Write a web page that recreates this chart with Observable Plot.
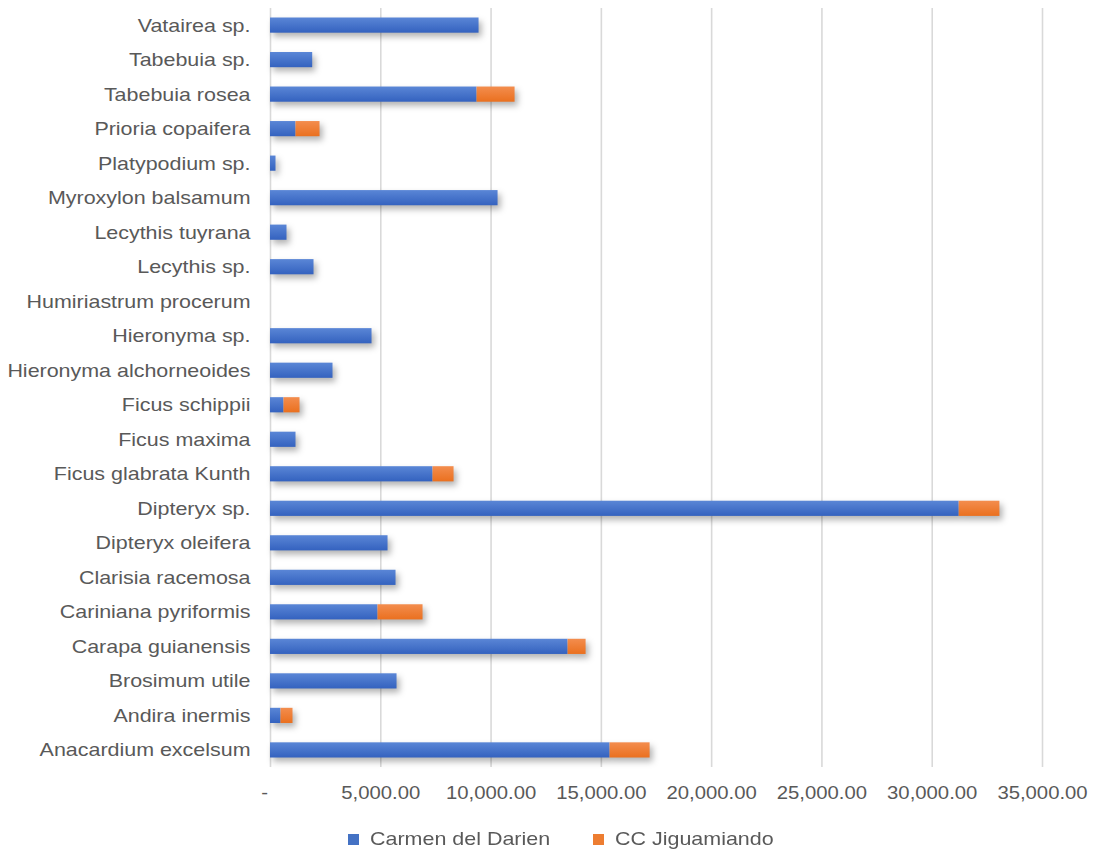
<!DOCTYPE html>
<html>
<head>
<meta charset="utf-8">
<script src="https://cdn.jsdelivr.net/npm/d3@7"></script>
<script src="https://cdn.jsdelivr.net/npm/@observablehq/plot@0.6"></script>
<style>
  html, body { margin: 0; padding: 0; background: #ffffff; }
  body { width: 1094px; height: 852px; font-family: "Liberation Sans", Arial, sans-serif; position: relative; }
  #chart svg { display: block; }
  g[aria-label="bar"] { filter: drop-shadow(3px 4px 3px rgba(0,0,0,0.30)); }
  #legend { position: absolute; top: 827px; left: 0; width: 1094px; height: 24px; font-size: 18.5px; color: #595959; }
  .item { position: absolute; top: 0; display: flex; align-items: center; height: 24px; }
  .sw { width: 11px; height: 11px; margin-right: 11px; }
  .lbl { display: inline-block; transform: scaleX(1.16); transform-origin: left center; white-space: nowrap; }
</style>
</head>
<body>
<div id="chart"></div>
<div id="legend"></div>
<script>
// Categories, top to bottom
const species = [
  "Vatairea sp.", "Tabebuia sp.", "Tabebuia rosea", "Prioria copaifera", "Platypodium sp.",
  "Myroxylon balsamum", "Lecythis tuyrana", "Lecythis sp.", "Humiriastrum procerum",
  "Hieronyma sp.", "Hieronyma alchorneoides", "Ficus schippii", "Ficus maxima",
  "Ficus glabrata Kunth", "Dipteryx sp.", "Dipteryx oleifera", "Clarisia racemosa",
  "Cariniana pyriformis", "Carapa guianensis", "Brosimum utile", "Andira inermis",
  "Anacardium excelsum"
];
// Series values
const carmenDelDarien = [
  9455, 1913, 9365, 1156, 250,
  10317, 748, 1973, 0,
  4603, 2834, 612, 1156,
  7369, 31224, 5329, 5691,
  4875, 13492, 5737, 476,
  15396
];
const ccJiguamiando = [
  0, 0, 1723, 1089, 0,
  0, 0, 0, 0,
  0, 0, 726, 0,
  953, 1845, 0, 0,
  2041, 816, 0, 544,
  1814
];
const seriesNames = ["Carmen del Darien", "CC Jiguamiando"];
const seriesColors = ["#4472C4", "#ED7D31"];
const xTicks = [0, 5000, 10000, 15000, 20000, 25000, 30000, 35000];

const rows = [];
species.forEach((s, i) => {
  rows.push({species: s, series: seriesNames[0], value: carmenDelDarien[i]});
  rows.push({species: s, series: seriesNames[1], value: ccJiguamiando[i]});
});

const fmt = d => d === 0 ? "-" : d3.format(",.2f")(d);

const chart = Plot.plot({
  width: 1094,
  height: 815,
  marginTop: 8,
  marginBottom: 48,
  marginLeft: 270,
  marginRight: 52,
  style: {fontFamily: '"Liberation Sans", Arial, sans-serif', background: "#ffffff"},
  x: {domain: [0, 35000], ticks: xTicks, tickFormat: fmt, label: null},
  y: {domain: species, paddingInner: 0.56, paddingOuter: 0.275, round: false, label: null},
  color: {domain: seriesNames, range: ["url(#gradBlue)", "url(#gradOrange)"]},
  marks: [
    Plot.gridX(xTicks, {stroke: "#d9d9d9", strokeOpacity: 1, strokeWidth: 1.6}),
    Plot.barX(rows, {x: "value", y: "species", fill: "series"}),
    Plot.axisX({ticks: xTicks, tickFormat: fmt, tickSize: 0, tickPadding: 19, fontSize: 17.5, color: "#595959", label: null}),
    Plot.axisY({tickSize: 0, tickPadding: 20, fontSize: 18.5, color: "#595959", label: null})
  ]
});

// Gradient definitions for the bars
const ns = "http://www.w3.org/2000/svg";
const defs = document.createElementNS(ns, "defs");
const grads = [
  ["gradBlue", "#5a86d6", "#3462bf"],
  ["gradOrange", "#f38d4e", "#ea701f"]
];
grads.forEach(([id, c1, c2]) => {
  const g = document.createElementNS(ns, "linearGradient");
  g.setAttribute("id", id);
  g.setAttribute("x1", "0"); g.setAttribute("y1", "0");
  g.setAttribute("x2", "0"); g.setAttribute("y2", "1");
  [[0, c1], [1, c2]].forEach(([o, c]) => {
    const st = document.createElementNS(ns, "stop");
    st.setAttribute("offset", o);
    st.setAttribute("stop-color", c);
    g.appendChild(st);
  });
  defs.appendChild(g);
});
chart.insertBefore(defs, chart.firstChild);

// Widen axis text horizontally (reference text is horizontally stretched)
chart.querySelectorAll('g[aria-label="y-axis tick label"] text, g[aria-label="x-axis tick label"] text').forEach(t => {
  const tr = t.getAttribute("transform") || "";
  t.setAttribute("transform", tr + " scale(1.16,1)");
});
// Shift the "-" zero label slightly left, as in the reference
chart.querySelectorAll('g[aria-label="x-axis tick label"] text').forEach(t => {
  if (t.textContent === "-") t.setAttribute("transform", (t.getAttribute("transform") || "") + " translate(-5,0)");
});
document.getElementById("chart").appendChild(chart);

// Legend
const legend = document.getElementById("legend");
const legendX = [348, 593];
seriesNames.forEach((name, i) => {
  const item = document.createElement("div");
  item.className = "item";
  item.style.left = legendX[i] + "px";
  const sw = document.createElement("div");
  sw.className = "sw";
  sw.style.background = seriesColors[i];
  const label = document.createElement("span");
  label.className = "lbl";
  label.textContent = name;
  item.appendChild(sw);
  item.appendChild(label);
  legend.appendChild(item);
});
</script>
</body>
</html>
